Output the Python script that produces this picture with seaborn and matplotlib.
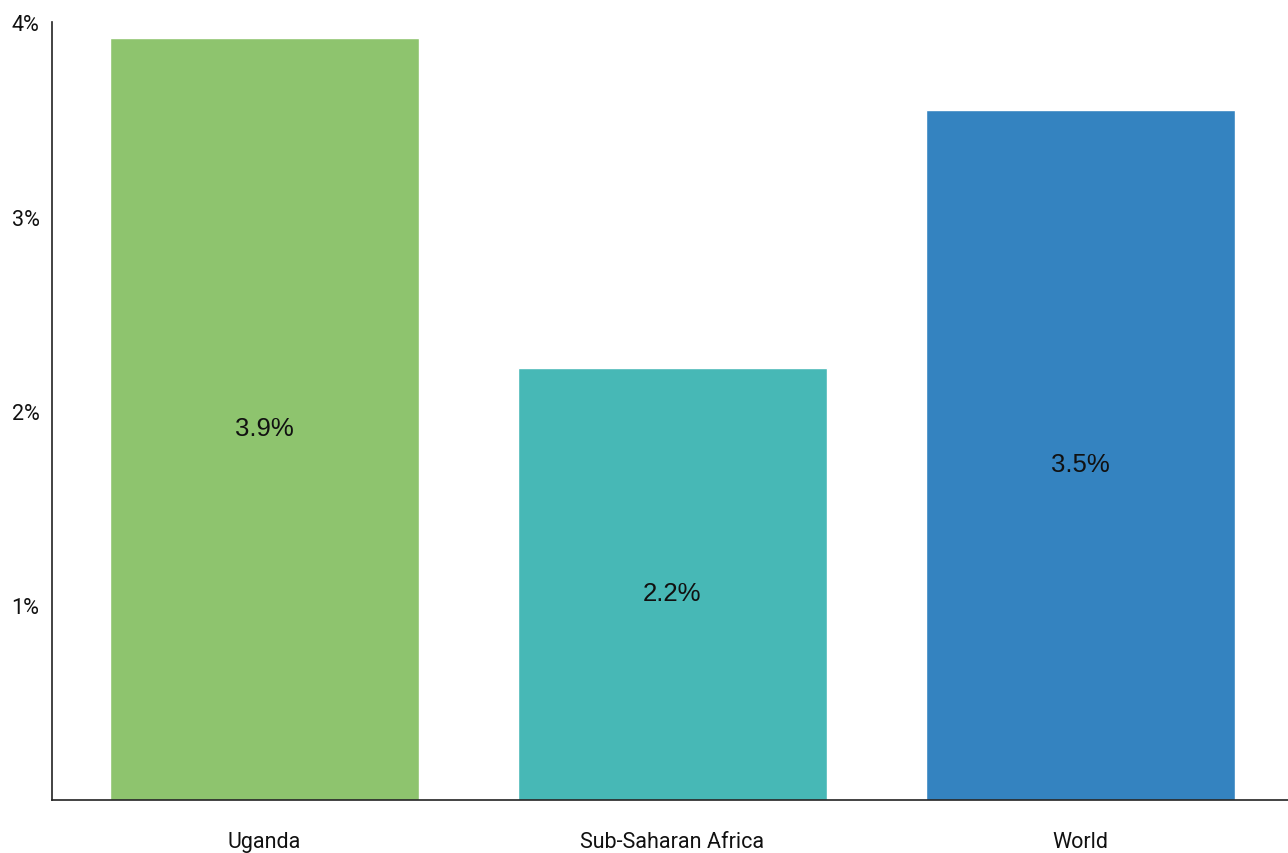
import matplotlib
matplotlib.use("Agg")
import matplotlib.pyplot as plt
import seaborn as sns
from matplotlib import font_manager

categories = ["Uganda", "Sub-Saharan Africa", "World"]
values = [3.92, 2.22, 3.55]
value_labels = ["3.9%", "2.2%", "3.5%"]
colors = ["#8EC46E", "#47B8B6", "#3483C0"]
yticks = [1, 2, 3, 4]
ytick_labels = ["1%", "2%", "3%", "4%"]

sns.set_theme(style="white")
names = {f.name for f in font_manager.fontManager.ttflist}
narrow = "Liberation Sans Narrow" if "Liberation Sans Narrow" in names else "Roboto"
plt.rcParams["font.family"] = [narrow, "DejaVu Sans"]

fig = plt.figure(figsize=(12.88, 8.54), dpi=100)
ax = fig.add_axes([52 / 1288, 53 / 854, (1288 - 52) / 1288, (801 - 23) / 854])

sns.barplot(x=categories, y=values, hue=categories, palette=colors,
            width=0.757, saturation=1, legend=False, ax=ax)

ax.set_ylim(0, 4)
ax.set_xlim(-0.521, 2.509)
ax.set_yticks(yticks)
ax.set_yticklabels(ytick_labels, fontsize=15.5, color="#111111")
ax.tick_params(axis="x", labelsize=15.5, colors="#111111", pad=22, length=0)
ax.tick_params(axis="y", pad=9, length=0)
ax.set_xlabel("")
ax.set_ylabel("")

for s in ["top", "right"]:
    ax.spines[s].set_visible(False)
for s in ["left", "bottom"]:
    ax.spines[s].set_color("#222222")
    ax.spines[s].set_linewidth(1.2)

for i, (v, lab) in enumerate(zip(values, value_labels)):
    ax.annotate(lab, xy=(i, v / 2), xytext=(0, -6.5), textcoords="offset points",
                ha="center", va="center", fontsize=18.5,
                family=["Liberation Sans", "DejaVu Sans"], color="#111111")

fig.savefig("out.png", dpi=100)
